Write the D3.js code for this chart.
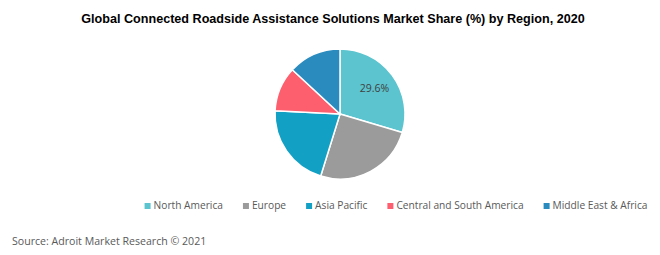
<!DOCTYPE html>
<html>
<head>
<meta charset="utf-8">
<script src="https://cdn.jsdelivr.net/npm/d3@7"></script>
<style>
  body { margin: 0; background: #fff; }
  svg { display: block; }
</style>
</head>
<body>
<div id="chart"></div>
<script>
// chart values
var regions = ['North America', 'Europe', 'Asia Pacific', 'Central and South America', 'Middle East & Africa'];
var shares = [29.6, 25.2, 21.0, 11.1, 13.1];
var colors = ['#5bc4cf', '#9b9b9b', '#12a0c5', '#fd5f6f', '#2a8bbf'];
var shownLabels = ['29.6%', '', '', '', ''];

var width = 660, height = 255;
var cx = 340, cy = 114, radius = 65;

var svg = d3.select('#chart').append('svg')
    .attr('width', width)
    .attr('height', height);

// title
svg.append('text')
    .attr('x', 333)
    .attr('y', 23)
    .attr('text-anchor', 'middle')
    .style('font-family', 'Liberation Sans, Arial, sans-serif')
    .style('font-weight', 'bold')
    .style('font-size', '12.6px')
    .style('fill', '#000')
    .text('Global Connected Roadside Assistance Solutions Market Share (%) by Region, 2020');

var data = regions.map(function (r, i) {
    return {name: r, value: shares[i], color: colors[i], label: shownLabels[i]};
});

var pie = d3.pie().sort(null).value(function (d) { return d.value; });
var arc = d3.arc().innerRadius(0).outerRadius(radius);
var labelArc = d3.arc().innerRadius(radius * 0.66).outerRadius(radius * 0.66);

var g = svg.append('g').attr('transform', 'translate(' + cx + ',' + cy + ')');

var slices = g.selectAll('.slice')
    .data(pie(data))
    .enter().append('g')
    .attr('class', 'slice');

slices.append('path')
    .attr('d', arc)
    .style('fill', function (d) { return d.data.color; })
    .style('stroke', '#fff')
    .style('stroke-width', 1.5);

slices.append('text')
    .attr('transform', function (d) { return 'translate(' + labelArc.centroid(d) + ')'; })
    .attr('dy', '0.35em')
    .attr('text-anchor', 'middle')
    .style('font-family', 'Open Sans, sans-serif')
    .style('font-size', '10.5px')
    .style('fill', '#404040')
    .text(function (d) { return d.data.label; });

// legend
var legend = svg.append('g').attr('class', 'legend');
var items = legend.selectAll('.item')
    .data(data)
    .enter().append('g')
    .attr('class', 'item');

items.append('rect')
    .attr('width', 6)
    .attr('height', 6)
    .attr('y', -6)
    .style('fill', function (d) { return d.color; });

items.append('text')
    .attr('x', 9)
    .style('font-family', 'Open Sans, sans-serif')
    .style('font-size', '10.2px')
    .style('fill', '#595959')
    .text(function (d) { return d.name; });

var xPos = 0, gap = 20, offsets = [];
items.each(function () {
    offsets.push(xPos);
    xPos += 9 + this.querySelector('text').getComputedTextLength() + gap;
});
var legendW = xPos - gap;
var legendStart = 396 - legendW / 2;
items.attr('transform', function (d, i) { return 'translate(' + (legendStart + offsets[i]) + ',209)'; });

// source
svg.append('text')
    .attr('x', 12)
    .attr('y', 245)
    .style('font-family', 'Open Sans, sans-serif')
    .style('font-size', '10.6px')
    .style('fill', '#595959')
    .text('Source: Adroit Market Research \u00a9 2021');
</script>
</body>
</html>
